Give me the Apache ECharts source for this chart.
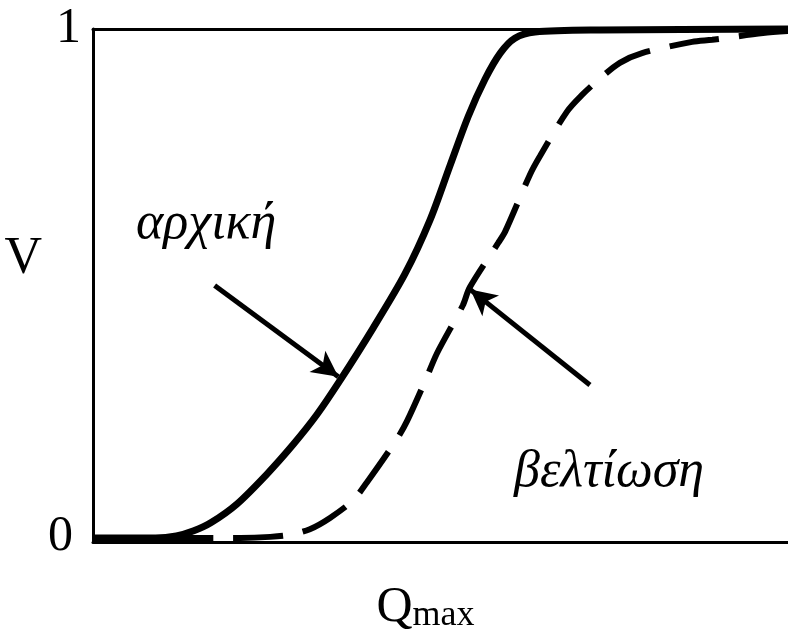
<!DOCTYPE html>
<html>
<head>
<meta charset="utf-8">
<script src="https://cdn.jsdelivr.net/npm/echarts@6/dist/echarts.min.js"></script>
<style>
  html, body { margin: 0; padding: 0; background: #fff; }
  #chart { width: 788px; height: 639px; }
</style>
</head>
<body>
<div id="chart"></div>
<script>
// αρχική (solid) curve, [Qmax, V]
const initialCurve = [
  [0, 0.008], [9, 0.008], [12, 0.012], [14.5, 0.022], [17, 0.038],
  [20.7, 0.074], [25.0, 0.132], [28.8, 0.19], [32.2, 0.248], [35.5, 0.314],
  [40.3, 0.417], [44.9, 0.523], [48.5, 0.628], [51.4, 0.735], [54.0, 0.83],
  [56.4, 0.902], [58.6, 0.953], [60.7, 0.982], [63.6, 0.994], [72.9, 0.998],
  [100, 1.0]
]
// βελτίωση (dashed) curve
const improvedCurve = [
  [0, 0.008], [21.2, 0.008], [25.5, 0.01], [28.3, 0.014], [31.2, 0.025],
  [34.1, 0.047], [37.4, 0.081], [39.4, 0.116], [43.7, 0.2], [45.2, 0.236],
  [47.8, 0.314], [49.5, 0.368], [53.2, 0.461], [54.2, 0.496], [58.3, 0.583],
  [59.3, 0.605], [62.9, 0.717], [64.3, 0.752], [68.2, 0.839], [70.4, 0.872],
  [72.9, 0.903], [75.8, 0.934], [79.0, 0.953], [86.2, 0.975], [89.1, 0.979],
  [96.4, 0.992], [100, 0.996]
]
// annotation arrows: [tail, tip]
const arrowInitial = [[17.5, 0.5], [35.3, 0.322]]
const arrowImproved = [[71.5, 0.306], [54.3, 0.492]]
const yTicks = [0, 1]
const labelInitial = 'αρχική'
const labelImproved = 'βελτίωση'

const serif = '"Liberation Serif", "DejaVu Serif", serif'
const myChart = echarts.init(document.getElementById('chart'))

myChart.setOption({
  animation: false,
  grid: { left: 93, right: -4, top: 29, bottom: 94 },
  xAxis: [
    {
      type: 'value',
      min: 0,
      max: 100,
      name: '{q|Q}{s|max}',
      nameLocation: 'middle',
      nameGap: 40,
      nameTextStyle: {
        padding: [0, 30, 0, 0],
        rich: {
          q: { fontFamily: serif, fontSize: 50, color: '#000' },
          s: { fontFamily: serif, fontSize: 36, color: '#000', padding: [16, 0, 0, 0] }
        }
      },
      axisLine: { show: true, lineStyle: { color: '#000', width: 3 } },
      axisTick: { show: false },
      axisLabel: { show: false },
      splitLine: { show: false }
    },
    {
      type: 'value',
      position: 'top',
      min: 0,
      max: 100,
      axisLine: { show: true, lineStyle: { color: '#000', width: 3 } },
      axisTick: { show: false },
      axisLabel: { show: false },
      splitLine: { show: false }
    }
  ],
  yAxis: {
    type: 'value',
    min: 0,
    max: 1,
    interval: 1,
    name: 'V',
    nameLocation: 'middle',
    nameRotate: 0,
    nameGap: 40,
    nameTextStyle: {
      fontFamily: serif,
      fontSize: 52,
      color: '#000',
      verticalAlign: 'bottom'
    },
    axisLine: { show: true, lineStyle: { color: '#000', width: 3 } },
    axisTick: { show: false },
    splitLine: { show: false },
    axisLabel: {
      margin: 12,
      formatter: v => (v === yTicks[1] ? '{one|1}' : '{zero|0}'),
      rich: {
        one: { fontFamily: serif, fontSize: 50, color: '#000' },
        zero: { fontFamily: serif, fontSize: 50, color: '#000', padding: [0, 8, 10, 0] }
      }
    }
  },
  series: [
    {
      name: labelInitial,
      type: 'line',
      data: initialCurve,
      smooth: 0.3,
      showSymbol: false,
      clip: false,
      lineStyle: { color: '#000', width: 7 },
      markLine: {
        silent: true,
        symbol: ['none', 'arrow'],
        symbolSize: [20, 26],
        label: { show: false },
        lineStyle: { color: '#000', width: 5, type: 'solid' },
        data: [
          [{ coord: arrowInitial[0] }, { coord: arrowInitial[1] }],
          [{ coord: arrowImproved[0] }, { coord: arrowImproved[1] }]
        ]
      }
    },
    {
      name: labelImproved,
      type: 'line',
      data: improvedCurve,
      smooth: 0.3,
      showSymbol: false,
      clip: false,
      lineStyle: { color: '#000', width: 6, type: [50, 20] }
    }
  ],
  graphic: [
    {
      type: 'text',
      x: 136,
      y: 224,
      style: {
        text: labelInitial,
        fontFamily: serif,
        fontStyle: 'italic',
        fontSize: 52,
        fill: '#000',
        verticalAlign: 'middle'
      }
    },
    {
      type: 'text',
      x: 514,
      y: 472,
      style: {
        text: labelImproved,
        fontFamily: serif,
        fontStyle: 'italic',
        fontSize: 52,
        fill: '#000',
        verticalAlign: 'middle'
      }
    }
  ]
})
</script>
</body>
</html>
